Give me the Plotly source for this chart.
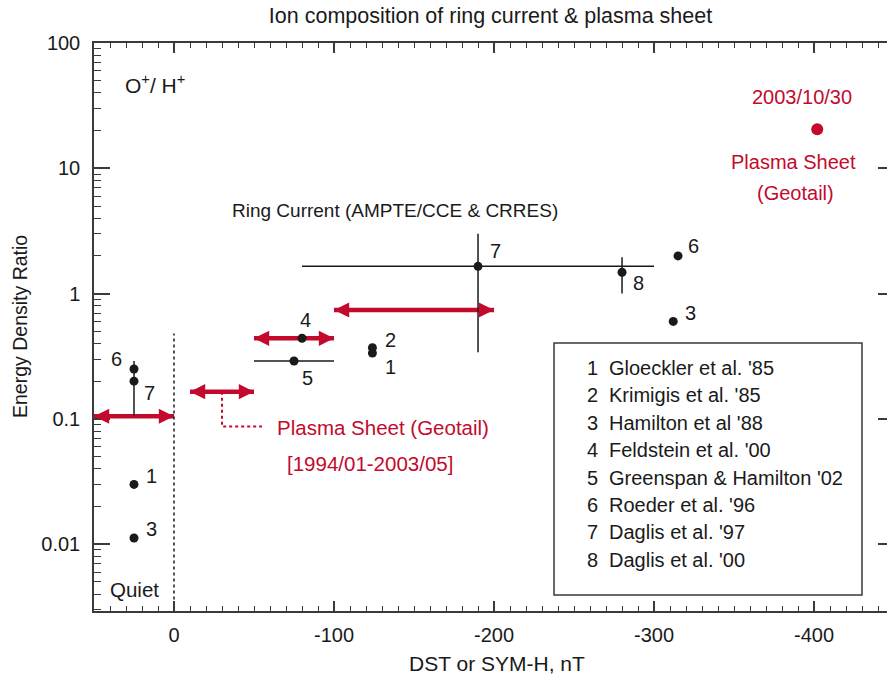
import numpy as np
import plotly.graph_objects as go

# ---------------- data ----------------
quiet_x = [25, 25, 25, 25]
quiet_y = [0.25, 0.20, 0.030, 0.0112]
quiet_labels = ["6", "7", "1", "3"]
quiet_err_up = [0, 0.09, 0, 0]
quiet_err_dn = [0, 0.095, 0, 0]

ring_x = [-124, -124, -312, -80, -75, -315, -190, -280]
ring_y = [0.335, 0.37, 0.60, 0.44, 0.29, 2.0, 1.65, 1.48]
ring_labels = ["1", "2", "3", "4", "5", "6", "7", "8"]
ring_xerr = [0, 0, 0, 0, 25, 0, 110, 0]
ring_yerr_up = [0, 0, 0, 0, 0, 0, 1.35, 0.47]
ring_yerr_dn = [0, 0, 0, 0, 0, 0, 1.31, 0.48]

storm_x = [-402]
storm_y = [20.5]

arrow_x_start = [50, -10, -50, -100]
arrow_x_end = [0, -50, -100, -200]
arrow_y = [0.105, 0.165, 0.44, 0.74]

quiet_boundary_x = [0, 0]
quiet_boundary_y = [0.0029, 0.48]
ps_link_x = [-30, -30, -55]
ps_link_y = [0.165, 0.087, 0.087]

legend_numbers = ["1", "2", "3", "4", "5", "6", "7", "8"]
legend_refs = ["Gloeckler et al. '85", "Krimigis et al. '85", "Hamilton et al '88",
               "Feldstein et al. '00", "Greenspan & Hamilton '02", "Roeder et al. '96",
               "Daglis et al. '97", "Daglis et al. '00"]

x_tickvals = [0, -100, -200, -300, -400]
x_ticktext = ["0", "-100", "-200", "-300", "-400"]
y_tickvals = [0.01, 0.1, 1, 10, 100]
y_ticktext = ["0.01", "0.1", "1", "10", "100"]

# ---------------- style ----------------
W, H = 888, 682
L, R, T, B = 94, 887, 43, 611
RED = "#C30A2D"
BLK = "#1a1a1a"
AX = "#3a3a3a"
FONT = "Liberation Sans, Arial, sans-serif"
FS = 20

# label offsets (px, right / down) relative to each dot
quiet_lab_off = [(-18, -10), (15, 12), (17, -8), (17, -9)]
ring_lab_off = [(18, 14), (18, -8), (17, -8), (3, -18), (13, 17), (15, -10),
                (17, -15), (16, 11)]


def px(x):
    return (x - L) / (R - L)


def py(y):
    return (B - y) / (B - T)


fig = go.Figure()

# arrow shafts (drawn first, under the black marks)
for xs, xe, yy in zip(arrow_x_start, arrow_x_end, arrow_y):
    fig.add_trace(go.Scatter(x=[xs, xe], y=[yy, yy], mode="lines",
                             line=dict(color=RED, width=4.5), hoverinfo="skip",
                             showlegend=False))

# quiet boundary
fig.add_trace(go.Scatter(x=quiet_boundary_x, y=quiet_boundary_y, mode="lines",
                         line=dict(color=BLK, width=1.5, dash="dot"),
                         showlegend=False, hoverinfo="skip"))
# plasma sheet connector
fig.add_trace(go.Scatter(x=ps_link_x, y=ps_link_y, mode="lines",
                         line=dict(color=RED, width=2, dash="dot"),
                         showlegend=False, hoverinfo="skip"))

# quiet-time points
fig.add_trace(go.Scatter(
    x=quiet_x, y=quiet_y, mode="markers",
    marker=dict(color=BLK, size=9),
    error_y=dict(type="data", array=quiet_err_up, arrayminus=quiet_err_dn,
                 width=0, thickness=1.5, color=BLK),
    showlegend=False))

# ring current points
fig.add_trace(go.Scatter(
    x=ring_x, y=ring_y, mode="markers",
    marker=dict(color=BLK, size=9),
    error_x=dict(type="data", array=ring_xerr, arrayminus=ring_xerr,
                 width=0, thickness=1.5, color=BLK),
    error_y=dict(type="data", array=ring_yerr_up, arrayminus=ring_yerr_dn,
                 width=0, thickness=1.5, color=BLK),
    showlegend=False))

# storm-time plasma sheet point
fig.add_trace(go.Scatter(x=storm_x, y=storm_y, mode="markers",
                         marker=dict(color=RED, size=12), showlegend=False))

# dummy trace for right-hand tick axis
fig.add_trace(go.Scatter(x=[None], y=[None], yaxis="y2", showlegend=False))

ann = []
# arrow heads
for xs, xe, yy in zip(arrow_x_start, arrow_x_end, arrow_y):
    for xt, off in ((xe, -15), (xs, 15)):
        ann.append(dict(x=xt, y=np.log10(yy), xref="x", yref="y", ax=off, ay=0,
                        axref="pixel", ayref="pixel", text="", showarrow=True,
                        arrowhead=2, arrowsize=0.76, arrowwidth=4,
                        arrowcolor=RED, standoff=0))

# point number labels
for xs_, ys_, labs, offs in ((quiet_x, quiet_y, quiet_labels, quiet_lab_off),
                             (ring_x, ring_y, ring_labels, ring_lab_off)):
    for xv, yv, lab, (dx, dy) in zip(xs_, ys_, labs, offs):
        ann.append(dict(x=xv, y=np.log10(yv), xref="x", yref="y", text=lab,
                        showarrow=False, xshift=dx, yshift=-dy,
                        xanchor="center", yanchor="middle",
                        font=dict(size=FS, color=BLK, family=FONT)))


def txt(s, x, y, color=BLK, xanchor="center", size=FS, **kw):
    ann.append(dict(text=s, x=px(x), y=py(y), xref="paper", yref="paper",
                    xanchor=xanchor, yanchor="middle", showarrow=False,
                    font=dict(size=size, color=color, family=FONT), **kw))


txt("2003/10/30", 802, 97, RED)
txt("Plasma Sheet", 793, 162, RED)
txt("(Geotail)", 795, 193, RED)
txt("Ring Current (AMPTE/CCE &amp; CRRES)", 395, 210, size=19)
txt("Plasma Sheet (Geotail)", 275, 427, RED, xanchor="left", size=20.5)
txt("[1994/01-2003/05]", 370, 463, RED, size=20.5)
txt("O<sup>+</sup>/ H<sup>+</sup>", 123, 84, xanchor="left", size=21)
txt("Quiet", 108, 589, xanchor="left", size=20.5)
txt("DST or SYM-H, nT", 497, 663, size=21)
txt("Energy Density Ratio", 20, 327, textangle=-90, size=19.5)

for i, (n, r) in enumerate(zip(legend_numbers, legend_refs)):
    yrow = 368 + 27.4 * i
    txt(n, 585, yrow, xanchor="left")
    txt(r, 607, yrow, xanchor="left")

minor_y = [k * 10.0 ** e for e in range(-3, 2) for k in range(2, 10)]

fig.update_layout(
    width=W, height=H,
    margin=dict(l=L, r=W - R, t=T, b=H - B),
    paper_bgcolor="white", plot_bgcolor="white",
    font=dict(family=FONT, size=FS, color=BLK),
    title=dict(text="Ion composition of ring current &amp; plasma sheet",
               x=0.5, xref="paper", y=1 - 15 / H, yref="container",
               xanchor="center", yanchor="middle",
               font=dict(size=21.5, color=BLK, family=FONT)),
    xaxis=dict(range=[50, -445.6], showgrid=False, zeroline=False,
               showline=True, linecolor=AX, linewidth=1.5, mirror="ticks",
               ticks="inside", ticklen=10, tickwidth=1.5, tickcolor=AX,
               tickvals=x_tickvals, ticktext=x_ticktext, ticklabelstandoff=5,
               tickfont=dict(size=FS, color=BLK),
               minor=dict(ticks="inside", ticklen=5, tickwidth=1.2, tickcolor=AX,
                          dtick=10, tick0=0, showgrid=False)),
    yaxis=dict(type="log", range=[-2.533, 2], showgrid=False, zeroline=False,
               showline=True, linecolor=AX, linewidth=1.5, mirror=False,
               ticks="inside", ticklen=16, tickwidth=1.5, tickcolor=AX,
               tickvals=y_tickvals, ticktext=y_ticktext, ticklabelstandoff=8,
               tickfont=dict(size=FS, color=BLK),
               minor=dict(ticks="inside", ticklen=7, tickwidth=1.2, tickcolor=AX,
                          tickvals=minor_y, showgrid=False)),
    yaxis2=dict(type="log", range=[-2.533, 2], overlaying="y", side="right",
                showgrid=False, zeroline=False, showline=False,
                ticks="inside", ticklen=9, tickwidth=1.5, tickcolor=AX,
                tickvals=y_tickvals, showticklabels=False),
    shapes=[dict(type="rect", xref="paper", yref="paper",
                 x0=px(554), x1=px(862), y0=py(595), y1=py(343),
                 line=dict(color=AX, width=1.5), fillcolor="rgba(0,0,0,0)")],
    annotations=ann,
)

fig.write_html("out.html")
